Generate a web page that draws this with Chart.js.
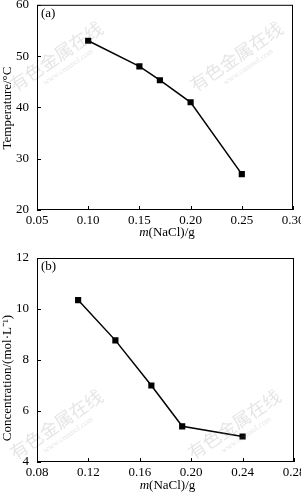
<!DOCTYPE html>
<html>
<head>
<meta charset="utf-8">
<script src="https://cdn.jsdelivr.net/npm/chart.js@4.4.0/dist/chart.umd.min.js"></script>
<style>
  body { margin: 0; background: #fff; }
  .panel { position: absolute; left: 0; width: 301px; }
</style>
</head>
<body>
<div class="panel" style="top:0;height:245px"><canvas id="chartA"></canvas></div>
<div class="panel" style="top:245px;height:249px"><canvas id="chartB"></canvas></div>
<script>
// Data
const massA = [0.10, 0.15, 0.17, 0.20, 0.25];
const temperature = [53, 48, 45.3, 41, 27];
const massB = [0.112, 0.141, 0.169, 0.193, 0.240];
const concentration = [10.35, 8.77, 7.0, 5.4, 5.0];

const serif = "'Liberation Serif', 'Times New Roman', serif";

// draws frame, inward ticks, titles, panel label, watermark
const decor = {
    id: "decor",
    afterDraw(chart, args, opts) {
        const ctx = chart.ctx;
        const a = chart.chartArea;
        const xs = chart.scales.x;
        const ys = chart.scales.y;
        ctx.save();
        // watermark
        ctx.fillStyle = "rgba(150,150,150,0.25)";
        for (let w of opts.marks) {
            ctx.save();
            ctx.translate(w[0], w[1]);
            ctx.rotate(-0.6);
            ctx.font = "18px 'Noto Sans CJK SC'";
            ctx.textAlign = "center";
            ctx.fillText("有色金属在线", 0, 0);
            ctx.font = "8px " + serif;
            ctx.fillText("www.cnnmol.com", 4, 11);
            ctx.restore();
        }
        ctx.strokeStyle = "#000";
        ctx.lineWidth = 1;
        ctx.strokeRect(a.left + 0.5, a.top + 0.5, a.right - a.left - 1, a.bottom - a.top - 1);
        ctx.beginPath();
        for (let t of xs.ticks) {
            const x = Math.round(xs.getPixelForValue(t.value)) + 0.5;
            ctx.moveTo(x, a.bottom);
            ctx.lineTo(x, a.bottom - 4);
        }
        for (let t of ys.ticks) {
            const y = Math.round(ys.getPixelForValue(t.value)) + 0.5;
            ctx.moveTo(a.left, y);
            ctx.lineTo(a.left + 4, y);
        }
        ctx.stroke();
        ctx.fillStyle = "#000";
        // panel label
        ctx.font = "13px " + serif;
        ctx.textAlign = "left";
        ctx.textBaseline = "middle";
        ctx.fillText(opts.label, a.left + 4, a.top + 9);
        // x title with italic m
        ctx.font = "italic 13px " + serif;
        const w1 = ctx.measureText("m").width;
        ctx.font = "13px " + serif;
        const w2 = ctx.measureText("(NaCl)/g").width;
        const x0 = (a.left + a.right) / 2 - (w1 + w2) / 2 + 2;
        ctx.font = "italic 13px " + serif;
        ctx.fillText("m", x0, opts.xTitleY);
        ctx.font = "13px " + serif;
        ctx.fillText("(NaCl)/g", x0 + w1, opts.xTitleY);
        // y title
        ctx.translate(8, opts.yTitleY);
        ctx.rotate(-Math.PI / 2);
        ctx.textAlign = "center";
        ctx.fillText(opts.yTitle, 0, 0);
        ctx.restore();
    }
};

function makeChart(id, xs, ys, xr, yr, pad, xH, deco) {
    return new Chart(document.getElementById(id), {
        type: "line",
        data: {
            datasets: [{
                data: xs.map((x, i) => ({ x: x, y: ys[i] })),
                borderColor: "#000",
                backgroundColor: "#000",
                borderWidth: 1.5,
                pointStyle: "rect",
                pointRadius: 3.3,
                pointHoverRadius: 3.3,
                tension: 0
            }]
        },
        options: {
            responsive: true,
            maintainAspectRatio: false,
            animation: false,
            events: [],
            layout: { padding: pad },
            plugins: {
                legend: { display: false },
                tooltip: { enabled: false },
                decor: deco
            },
            scales: {
                x: {
                    type: "linear",
                    min: xr[0], max: xr[1],
                    grid: { display: false, drawTicks: false },
                    border: { display: false },
                    ticks: {
                        stepSize: xr[2],
                        padding: 3,
                        color: "#000",
                        font: { family: serif, size: 13 },
                        maxRotation: 0,
                        callback: (v) => v.toFixed(2)
                    },
                    afterFit: (s) => { s.height = xH; s.paddingLeft = 0; s.paddingRight = 0; }
                },
                y: {
                    min: yr[0], max: yr[1],
                    grid: { display: false, drawTicks: false },
                    border: { display: false },
                    ticks: {
                        stepSize: yr[2],
                        padding: 8,
                        color: "#000",
                        font: { family: serif, size: 13 }
                    },
                    afterFit: (s) => { s.width = 37; s.paddingTop = 0; s.paddingBottom = 0; }
                }
            }
        },
        plugins: [decor]
    });
}

makeChart("chartA", massA, temperature, [0.05, 0.30, 0.05], [20, 60, 10],
    { top: 4, right: 8, left: 0, bottom: 0 }, 35,
    { label: "(a)", yTitle: "Temperature/\u00B0C", yTitleY: 108, xTitleY: 233,
      marks: [[60, 62], [240, 62]] });

makeChart("chartB", massB, concentration, [0.08, 0.28, 0.04], [4, 12, 2],
    { top: 13, right: 7, left: 0, bottom: 0 }, 32,
    { label: "(b)", yTitle: "Concentration/(mol\u00B7L\u207B\u00B9)", yTitleY: 133, xTitleY: 241,
      marks: [[60, 185], [238, 185]] });
</script>
</body>
</html>
